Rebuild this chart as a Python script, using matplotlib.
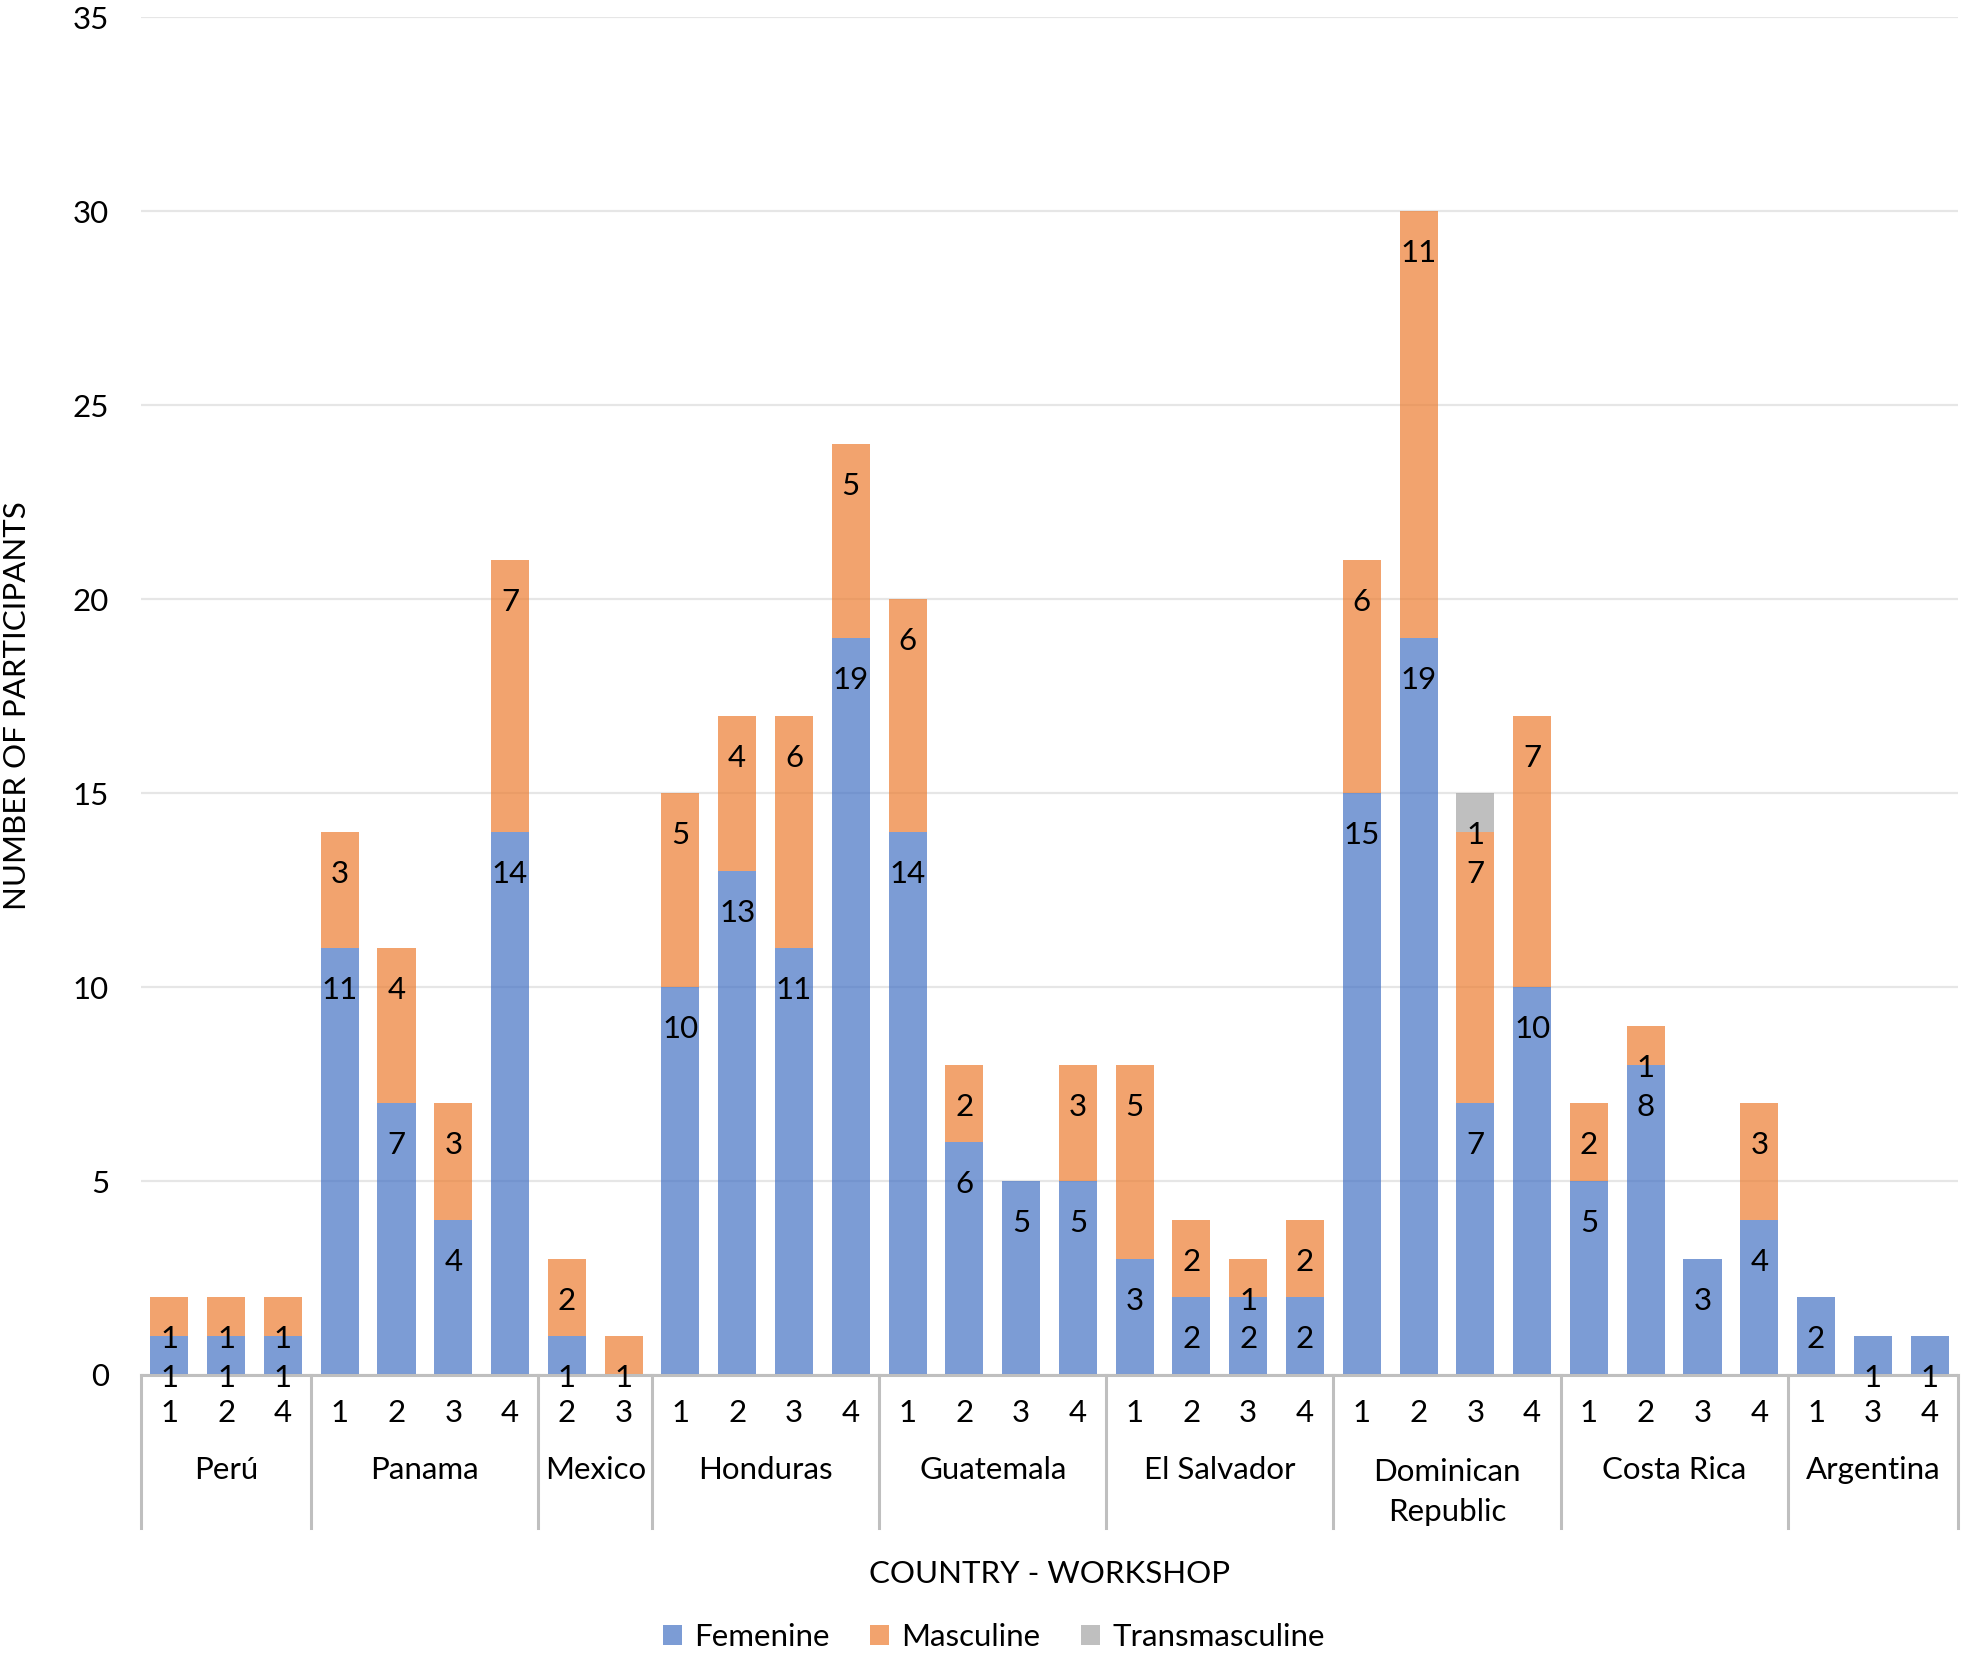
import matplotlib
matplotlib.use("Agg")
import matplotlib.pyplot as plt
from matplotlib.patches import Patch
import matplotlib.transforms as mtransforms
import numpy as np

countries = ["Perú", "Panama", "Mexico", "Honduras", "Guatemala", "El Salvador",
             "Dominican\nRepublic", "Costa Rica", "Argentina"]
workshops = [[1, 2, 4], [1, 2, 3, 4], [2, 3], [1, 2, 3, 4], [1, 2, 3, 4],
             [1, 2, 3, 4], [1, 2, 3, 4], [1, 2, 3, 4], [1, 3, 4]]
femenine = [1, 1, 1, 11, 7, 4, 14, 1, 0, 10, 13, 11, 19, 14, 6, 5, 5,
            3, 2, 2, 2, 15, 19, 7, 10, 5, 8, 3, 4, 2, 1, 1]
masculine = [1, 1, 1, 3, 4, 3, 7, 2, 1, 5, 4, 6, 5, 6, 2, 0, 3,
             5, 2, 1, 2, 6, 11, 7, 7, 2, 1, 0, 3, 0, 0, 0]
transmasculine = [0, 0, 0, 0, 0, 0, 0, 0, 0, 0, 0, 0, 0, 0, 0, 0, 0,
                  0, 0, 0, 0, 0, 0, 1, 0, 0, 0, 0, 0, 0, 0, 0]
series_names = ["Femenine", "Masculine", "Transmasculine"]
colors = ["#4472C4", "#ED7D31", "#A5A5A5"]
yticks = [0, 5, 10, 15, 20, 25, 30, 35]

plt.rcParams['font.family'] = ['Lato', 'DejaVu Sans']
FS = 22.5

W, H = 1961, 1657
fig = plt.figure(figsize=(W / 100, H / 100), dpi=100)
ax_l, ax_r, ax_t, ax_b = 141, 1958, 17.3, 1375
ax = fig.add_axes([ax_l / W, 1 - ax_b / H, (ax_r - ax_l) / W, (ax_b - ax_t) / H])

x = np.arange(len(femenine))
width = 0.67
bottoms = np.zeros(len(x))
for vals, name, col in zip([femenine, masculine, transmasculine], series_names, colors):
    vals = np.array(vals, dtype=float)
    ax.bar(x, vals, width, bottom=bottoms, color=col, alpha=0.7, label=name,
           zorder=2, linewidth=0)
    tops = bottoms + vals
    for xi, v, t in zip(x, vals, tops):
        if v > 0:
            ax.annotate(f"{int(v)}", (xi, t), xytext=(0, -42 * 0.72),
                        textcoords="offset points", ha="center", va="center",
                        fontsize=FS, color="black", zorder=5, annotation_clip=False)
    bottoms = tops

ax.set_xlim(-0.5, len(x) - 0.5)
ax.set_ylim(0, 35)
ax.set_yticks(yticks)
ax.yaxis.grid(True, color="#E6E6E6", linewidth=1.6, zorder=0)
ax.set_axisbelow(True)
for s in ["top", "right", "left"]:
    ax.spines[s].set_visible(False)
ax.spines["bottom"].set_color("#BFBFBF")
ax.spines["bottom"].set_linewidth(2.2)
ax.spines["bottom"].set_zorder(3)
ax.tick_params(axis="y", length=0, pad=23, labelsize=FS)

wlabels = [str(w) for ws in workshops for w in ws]
ax.set_xticks(x, wlabels)
ax.tick_params(axis="x", length=0, pad=17, labelsize=FS)

# group separators and country labels
trans = mtransforms.blended_transform_factory(ax.transData, ax.transAxes)
axh = ax_b - ax_t
sep_bottom = -(1528 - ax_b) / axh
start = 0
bounds = [-0.5]
for c, ws in zip(countries, workshops):
    end = start + len(ws)
    bounds.append(end - 0.5)
    center = (start + end - 1) / 2
    ypix = 1492 if "\n" in c else 1470
    ax.text(center, -(ypix - ax_b) / axh, c, transform=trans, ha="center", va="center",
            fontsize=FS, linespacing=1.5)
    start = end
for b in bounds:
    ax.plot([b, b], [0, sep_bottom], transform=trans, color="#BFBFBF",
            linewidth=2.2, clip_on=False, zorder=3)

ax.set_ylabel("NUMBER OF PARTICIPANTS", fontsize=FS)
ax.yaxis.set_label_coords(-(ax_l - 17.5) / (ax_r - ax_l), (ax_b - 706) / axh)
ax.set_xlabel("COUNTRY - WORKSHOP", fontsize=FS)
ax.xaxis.set_label_coords(0.5, -(1574 - ax_b) / axh)
ax.xaxis.label.set_va("center")
ax.yaxis.label.set_va("center")

handles = [Patch(facecolor=c, alpha=0.7, edgecolor="none") for c in colors]
fig.legend(handles, series_names, loc="center", bbox_to_anchor=(994 / W, 1 - 1637 / H),
           ncol=3, frameon=False, fontsize=FS, handlelength=0.6, handleheight=0.6,
           handletextpad=0.4, columnspacing=1.3)

fig.savefig("out.png", dpi=100)
